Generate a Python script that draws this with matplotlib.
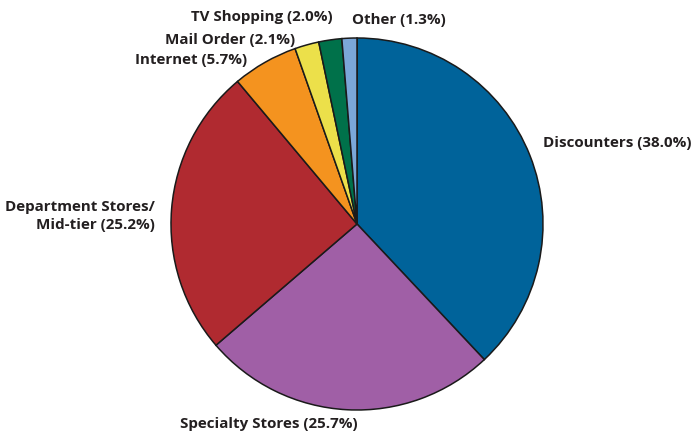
import matplotlib
matplotlib.use("Agg")
import matplotlib.pyplot as plt

# data, clockwise from 12 o'clock
labels = ["Discounters (38.0%)", "Specialty Stores (25.7%)", "Department Stores/\nMid-tier (25.2%)",
          "Internet (5.7%)", "Mail Order (2.1%)", "TV Shopping (2.0%)", "Other (1.3%)"]
shares = [38.0, 25.7, 25.2, 5.7, 2.1, 2.0, 1.3]
colors = ["#00639a", "#a05fa6", "#b02a30", "#f4931f", "#ece04a", "#00714a", "#7ba7d9"]

# label placement (data coords, radius = 1) and alignment
label_pos = [(1.0, 0.435, "left"), (-0.952, -1.075, "left"), (-1.086, 0.043, "right"),
             (-0.591, 0.882, "right"), (-0.333, 0.989, "right"), (-0.129, 1.113, "right"),
             (-0.027, 1.097, "left")]

plt.rcParams['font.family'] = ['Open Sans', 'DejaVu Sans']

W, H = 692, 434
fig = plt.figure(figsize=(W / 100, H / 100), dpi=100)
cx, cy, r = 357, 224, 186
ax = fig.add_axes([(cx - r) / W, (H - cy - r) / H, 2 * r / W, 2 * r / H])

ax.pie(shares, colors=colors, startangle=90, counterclock=False, radius=1,
       wedgeprops=dict(edgecolor="#1a1a1a", linewidth=1.1))
ax.set_xlim(-1, 1)
ax.set_ylim(-1, 1)
ax.set_aspect("equal")
ax.axis("off")

for lab, (x, y, ha) in zip(labels, label_pos):
    ax.text(x, y, lab, ha=ha, va="center", fontsize=10.9, fontweight="bold",
            color="#231f20", multialignment="right", linespacing=1.3, clip_on=False)

fig.savefig("out.png", dpi=100)
